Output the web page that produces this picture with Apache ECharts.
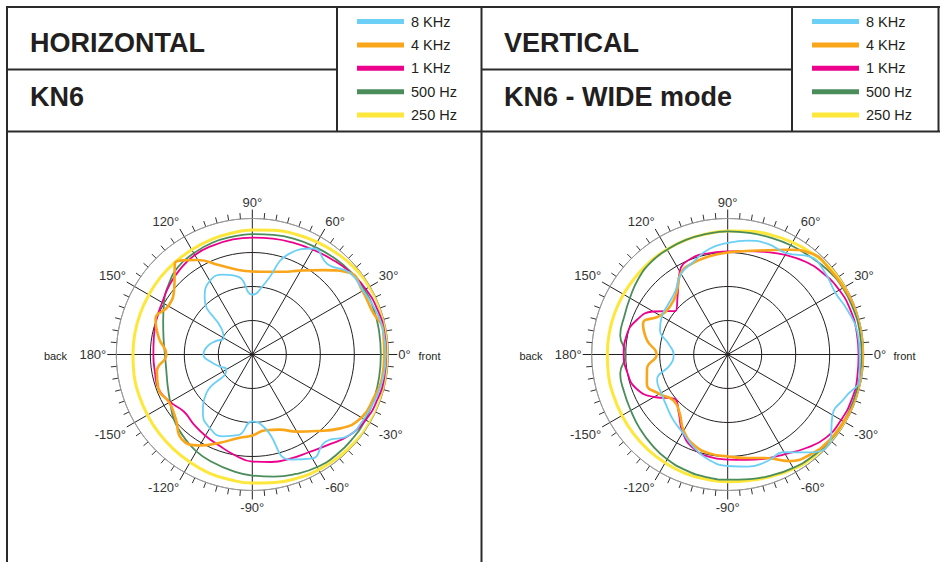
<!DOCTYPE html>
<html><head><meta charset="utf-8">
<script src="https://cdn.jsdelivr.net/npm/echarts@6.0.0/dist/echarts.min.js"></script>
<style>html,body{margin:0;padding:0;background:#fff}#c{width:940px;height:562px}</style>
</head><body><div id="c"></div>
<script>
// angles (degrees, 0 = front, counter-clockwise)
const angles = [0,10,20,30,40,50,60,70,80,90,100,110,120,130,140,150,160,170,180,190,200,210,220,230,240,250,260,270,280,290,300,310,320,330,340,350];
const names = ['8 KHz','4 KHz','1 KHz','500 Hz','250 Hz'];
const colors = ['#6ccff6','#faa61a','#ec008c','#4b8c5b','#fde73a'];

// HORIZONTAL  KN6 (dB, 0 = outer ring)
const h8k  = [-0.7,-0.9,-1.5,-2.4,-2.6,-5.4,-4.0,-8.5,-18.8,-22.4,-16.8,-15.0,-15.0,-18.2,-28.2,-30.3,-28.5,-26.5,-25.6,-27.6,-29.7,-31.2,-22.4,-17.4,-15.0,-14.4,-15.9,-20.3,-17.9,-7.1,-4.7,-6.5,-2.9,-2.1,-1.5,-0.9];
const h4k  = [-1.2,-0.9,-2.5,-2.6,-2.6,-7.6,-11.5,-14.1,-15.3,-15.6,-14.7,-12.1,-7.9,-4.7,-10.0,-11.5,-9.7,-12.1,-14.7,-11.5,-10.6,-11.8,-10.6,-7.6,-9.1,-12.4,-15.0,-16.2,-17.4,-16.5,-13.8,-10.6,-6.2,-2.9,-2.1,-1.2];
const h1k  = [-0.6,-0.6,-0.9,-1.5,-2.4,-3.5,-4.4,-5.0,-5.4,-5.6,-5.7,-5.9,-6.2,-7.1,-8.2,-9.4,-10.0,-10.6,-10.9,-10.9,-10.6,-12.1,-13.8,-13.2,-12.4,-11.5,-10.0,-8.5,-7.9,-7.4,-6.8,-5.3,-2.9,-1.5,-0.9,-0.6];
const h500 = [-2.2,-2.1,-1.9,-1.9,-2.2,-2.8,-3.4,-3.8,-4.3,-4.6,-4.9,-5.1,-5.6,-6.2,-7.9,-10.0,-12.1,-13.5,-14.3,-14.3,-13.5,-12.1,-10.0,-8.5,-7.1,-6.2,-5.3,-4.4,-3.5,-2.6,-1.8,-1.5,-1.5,-1.6,-1.9,-2.1];
const h250 = [0,0,-0.1,-0.3,-0.6,-1.2,-1.8,-2.4,-2.9,-3.4,-3.8,-4.1,-4.4,-4.6,-4.7,-4.9,-4.9,-4.9,-4.9,-4.7,-4.6,-4.4,-4.1,-3.8,-3.4,-2.9,-2.6,-2.2,-1.8,-1.3,-0.9,-0.6,-0.3,-0.1,0,0];

// VERTICAL  KN6 - WIDE mode
const v8k  = [-1.2,-1.3,-2.4,-3.5,-2.6,-2.4,-5.6,-5.4,-6.0,-7.2,-8.5,-10.9,-12.6,-15.9,-17.1,-17.6,-18.8,-22.4,-24.1,-22.9,-17.9,-17.4,-16.5,-15.0,-13.5,-10.9,-8.5,-7.2,-6.5,-6.5,-6.8,-2.4,-0.6,-4.4,-3.2,-0.6];
const v4k  = [0,0,-0.1,-0.6,-0.9,-1.3,-4.4,-7.4,-9.1,-10.0,-10.6,-11.2,-12.4,-16.5,-17.9,-17.1,-13.5,-15.9,-19.1,-15.9,-14.7,-16.8,-19.1,-17.9,-14.1,-11.5,-10.4,-10.0,-9.1,-7.6,-3.8,-1.8,-0.9,-0.6,0,0];
const v1k  = [-1.5,-1.5,-1.6,-2.1,-3.1,-4.4,-6.2,-7.9,-9.1,-9.7,-9.7,-9.7,-11.8,-17.1,-20.0,-14.7,-11.2,-9.7,-9.4,-10.0,-11.2,-15.0,-19.7,-17.6,-13.5,-10.6,-9.4,-9.1,-8.5,-7.4,-6.2,-4.1,-2.1,-1.5,-1.2,-1.3];
const v500 = [-0.6,-0.6,-0.7,-0.9,-1.5,-2.4,-2.9,-3.4,-3.7,-3.8,-4.0,-4.1,-4.4,-4.7,-5.6,-6.8,-7.6,-7.9,-10.0,-7.9,-7.6,-7.1,-6.2,-5.3,-4.4,-3.8,-3.4,-3.2,-2.8,-2.2,-1.5,-1.0,-0.7,-0.6,-0.6,-0.6];
const v250 = [0,0,-0.1,-0.3,-0.6,-1.2,-1.9,-2.6,-3.2,-3.7,-4.0,-4.1,-4.3,-4.4,-4.6,-4.6,-4.6,-4.6,-4.6,-4.4,-4.3,-4.1,-3.8,-3.5,-3.2,-2.9,-2.8,-2.6,-2.4,-1.9,-1.2,-0.7,-0.6,-0.3,-0.1,0];

const hSets = [h8k,h4k,h1k,h500,h250];
const vSets = [v8k,v4k,v1k,v500,v250];
const widths = [1.8,2.6,1.8,1.8,3];
const drawOrder = [4,3,2,1,0];

const FONT = '"Liberation Sans", Arial, Helvetica, sans-serif';
const INK = '#231f20';

function toData(vals){
  const d = angles.map((a,i)=>[vals[i], a]);
  d.push([vals[0], 360]);
  return d;
}
function angleAxis(idx){
  return {
    polarIndex: idx, type:'value', min:0, max:360, interval:30,
    startAngle:0, clockwise:false,
    axisLine:{show:true, lineStyle:{color:'#9a9a9a', width:1}},
    axisTick:{show:true, length:9, lineStyle:{color:INK, width:1}},
    minorTick:{show:true, splitNumber:6, length:6, lineStyle:{color:'#333', width:1}},
    splitLine:{show:true, lineStyle:{color:INK, width:1}},
    axisLabel:{show:true, margin:10, fontSize:13, color:'#333', fontFamily:FONT,
      formatter: v => (v>180 ? v-360 : v) + '°'}
  };
}
function radiusAxis(idx){
  return {
    polarIndex: idx, type:'value', min:-40, max:0, interval:10,
    axisLine:{show:false}, axisTick:{show:false}, axisLabel:{show:false},
    splitLine:{show:true, lineStyle:{color:[INK,INK,INK,INK,'#9a9a9a'], width:1}}
  };
}
const series = [];
[hSets, vSets].forEach((sets, p)=>{
  drawOrder.forEach(k=>{
    series.push({
      name: names[k], type:'line', coordinateSystem:'polar', polarIndex:p,
      data: toData(sets[k]), smooth:0.5, showSymbol:false, symbol:'none',
      animation:false, silent:true,
      lineStyle:{color:colors[k], width:widths[k]}, itemStyle:{color:colors[k]}
    });
  });
});

function legend(left){
  return {
    data: names, orient:'vertical', left:left, top:9, itemWidth:47, itemHeight:5,
    itemGap:8.4, icon:'rect', selectedMode:false,
    textStyle:{fontSize:14.5, lineHeight:14, color:INK, fontFamily:FONT, padding:[0,0,0,2]}
  };
}
function line(x1,y1,x2,y2){
  return {type:'line', silent:true, shape:{x1,y1,x2,y2}, style:{stroke:'#2b2b2b', lineWidth:2}};
}
function txt(t,x,y,font,align){
  return {type:'text', silent:true, style:{text:t, x, y, font, fill:INK, textAlign:align||'left', textVerticalAlign:'middle'}};
}
const graphic = [
  line(6,7,940,7), line(7,6,7,562), line(481.5,6,481.5,562), line(938.5,6,938.5,132),
  line(6,131.5,940,131.5), line(7,69.5,337,69.5), line(481,69.5,792,69.5),
  line(337,6,337,132), line(792,6,792,132),
  txt('HORIZONTAL',30,42.5,'bold 27px '+FONT),
  txt('KN6',30,96.5,'bold 27px '+FONT),
  txt('VERTICAL',504,42.5,'bold 27px '+FONT),
  txt('KN6 - WIDE mode',504,96.5,'bold 27px '+FONT),
  txt('back',55.5,356,'11px '+FONT,'center'),
  txt('front',429.5,356,'11px '+FONT,'center'),
  txt('back',531,356,'11px '+FONT,'center'),
  txt('front',904.5,356,'11px '+FONT,'center')
];

const chart = echarts.init(document.getElementById('c'), null, {renderer:'svg'});
chart.setOption({
  animation:false,
  backgroundColor:'#ffffff',
  polar:[{center:[252.3,354.5], radius:136}, {center:[727.7,354.5], radius:136}],
  angleAxis:[angleAxis(0), angleAxis(1)],
  radiusAxis:[radiusAxis(0), radiusAxis(1)],
  legend:[legend(352), legend(807)],
  graphic: graphic,
  series: series
});
</script></body></html>
